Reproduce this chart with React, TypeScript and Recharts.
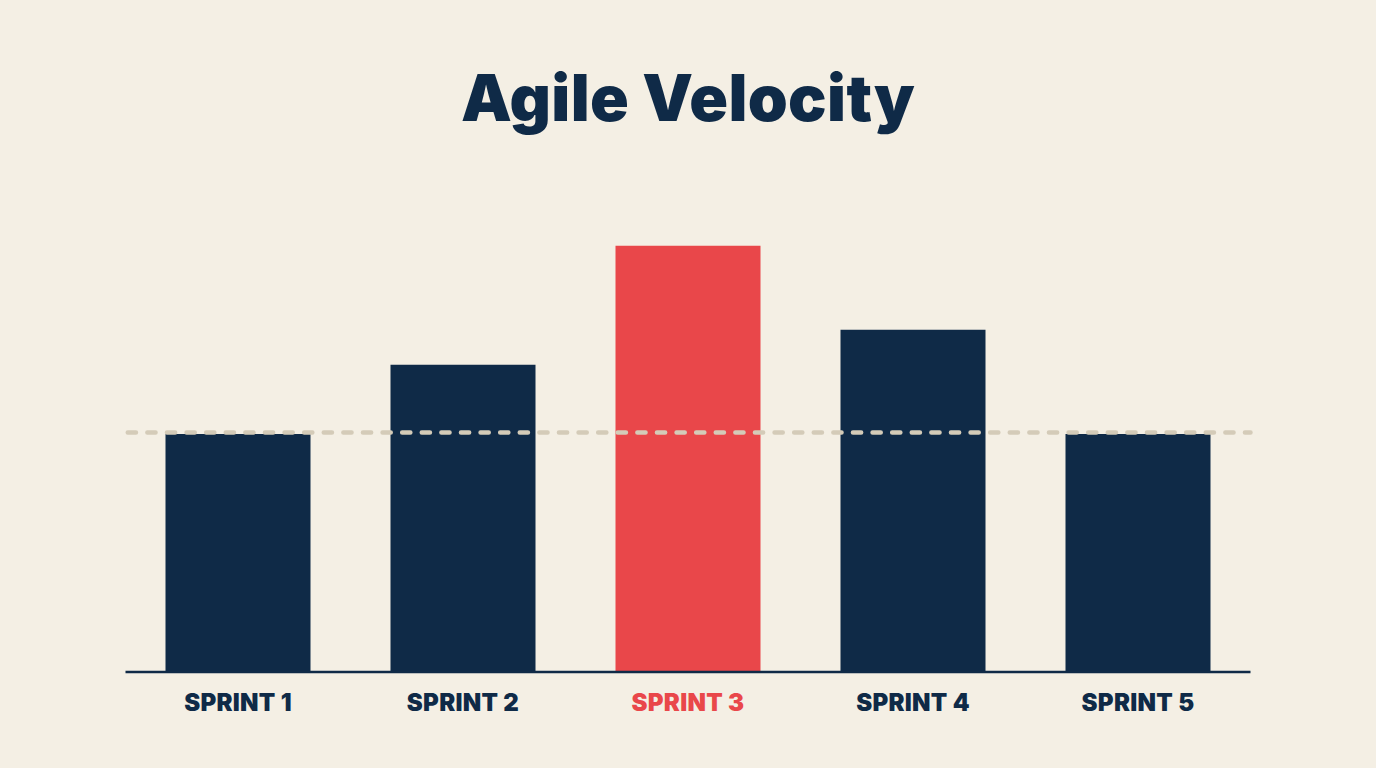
import React from "react";
import { BarChart, Bar, XAxis, YAxis, Cell, ReferenceLine } from "recharts";

const categories = ["SPRINT 1", "SPRINT 2", "SPRINT 3", "SPRINT 4", "SPRINT 5"];
const velocity = [34, 43.9, 60.9, 48.9, 34];
const barColors = ["#0f2a47", "#0f2a47", "#e9474a", "#0f2a47", "#0f2a47"];
const referenceValue = 34.2;
const title = "Agile Velocity";

const rows = categories.map((name, i) => ({ name, velocity: velocity[i] }));
const FONT = "Inter, 'Noto Sans', sans-serif";

function Tick(props: any) {
  const { x, payload, index } = props;
  return (
    <text
      x={x}
      y={711}
      textAnchor="middle"
      fontFamily={FONT}
      fontWeight={900}
      fontSize={24}
      letterSpacing={0.3}
      fill={barColors[index]}
    >
      {payload.value}
    </text>
  );
}

export default function App() {
  return (
    <div style={{ position: "absolute", left: 0, top: 0, width: 1376, height: 768, background: "#f4efe4", overflow: "hidden" }}>
      <BarChart width={1376} height={768} data={rows} margin={{ top: 0, right: 125.5, bottom: 0, left: 125.5 }} barSize={145}>
        <YAxis hide domain={[0, 96]} />
        <XAxis
          dataKey="name"
          height={96}
          interval={0}
          tickLine={false}
          axisLine={{ stroke: "#0f2a47", strokeWidth: 2.5 }}
          tick={<Tick />}
        />
        <Bar dataKey="velocity" isAnimationActive={false}>
          {rows.map((r, i) => (
            <Cell key={r.name} fill={barColors[i]} />
          ))}
        </Bar>
        <ReferenceLine
          y={referenceValue}
          stroke="#d4cbb8"
          strokeWidth={4.5}
          strokeDasharray="8.2 11.4"
          strokeDashoffset={-2.25}
          strokeLinecap="round"
        />
      </BarChart>
      <div
        style={{
          position: "absolute",
          left: 0,
          width: 1376,
          top: 58,
          textAlign: "center",
          fontFamily: FONT,
          fontWeight: 900,
          fontSize: 64,
          letterSpacing: 0.4,
          lineHeight: "80px",
          color: "#0f2a47",
        }}
      >
        {title}
      </div>
    </div>
  );
}
